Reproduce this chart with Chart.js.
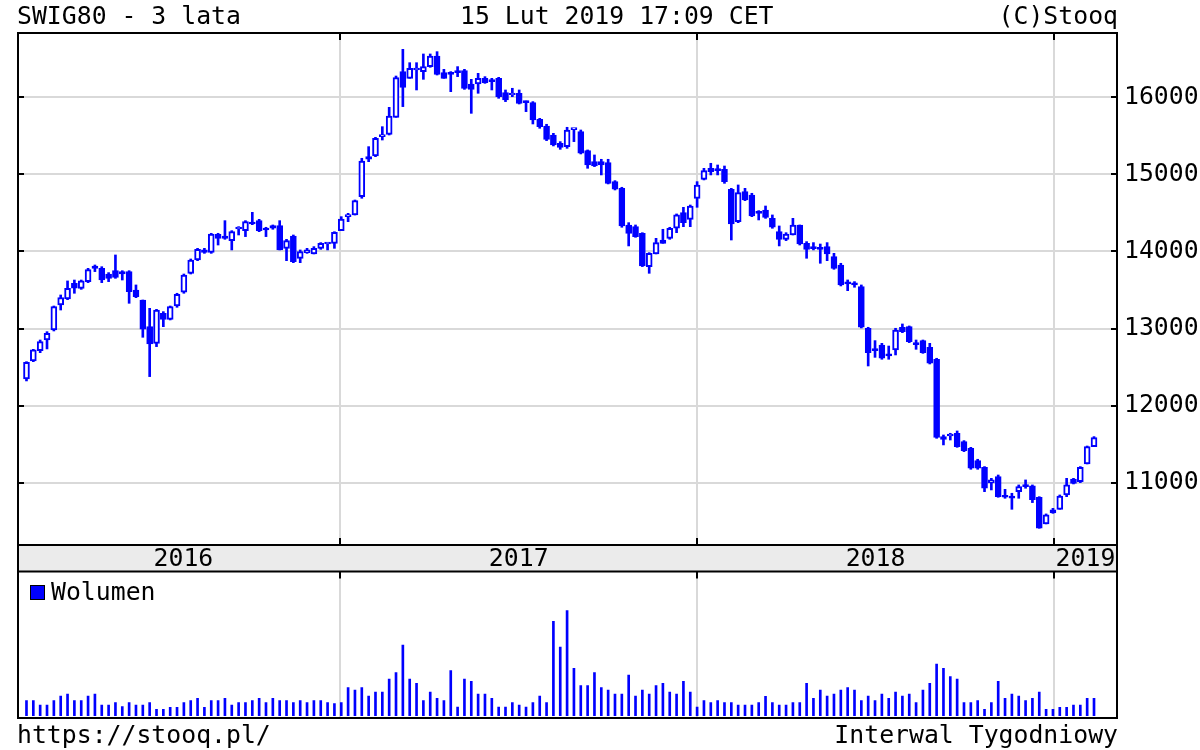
<!DOCTYPE html>
<html><head><meta charset="utf-8">
<script src="https://cdn.jsdelivr.net/npm/chart.js@4.4.1/dist/chart.umd.min.js"></script>
<style>
html,body{margin:0;padding:0;background:#fff;}
#wrap{position:relative;width:1200px;height:750px;overflow:hidden;background:#fff;}
canvas{position:absolute;left:0;top:0;}
.t{position:absolute;font-family:'DejaVu Sans Mono',monospace;font-size:24.8px;line-height:25px;color:#000;white-space:pre;}
</style></head><body>
<div id="wrap">
<canvas id="c" width="1200" height="750"></canvas>
<div class="t" style="left:17px;top:3px">SWIG80 - 3 lata</div>
<div class="t" style="left:460px;top:3px">15 Lut 2019 17:09 CET</div>
<div class="t" style="right:82px;top:3px">(C)Stooq</div>
<div class="t" style="left:17px;top:722px">https://stooq.pl/</div>
<div class="t" style="right:82px;top:722px">Interwal Tygodniowy</div>
</div>
<script>
// ---- data (weekly candles, SWIG80) ----
const firstWeek = [2016, 1, 15]; // Monday 15 Feb 2016
const open = [12347,12580,12714,12852,12982,13306,13384,13588,13522,13609,13812,13782,13708,13751,13739,13739,13501,13371,13025,12809,13198,13120,13293,13471,13717,13890,14020,13989,14223,14201,14141,14292,14270,14374,14400,14301,14335,14335,14041,14201,13911,13985,13968,14041,14097,14106,14270,14452,14473,14712,15230,15239,15490,15520,15740,16333,16246,16354,16333,16398,16536,16320,16320,16333,16346,16173,16173,16246,16225,16246,16060,16030,16052,15944,15931,15714,15628,15511,15403,15360,15580,15554,15308,15165,15165,15152,14906,14820,14344,14322,14236,13804,13968,14149,14171,14301,14504,14417,14690,14936,15079,15066,15066,14806,14387,14776,14733,14504,14538,14430,14257,14158,14214,14344,14106,14054,14054,14063,13933,13825,13596,13587,13544,13004,12731,12787,12671,12723,13017,13025,12809,12844,12757,12602,11599,11607,11642,11534,11447,11287,11201,10998,11080,10829,10829,10885,10967,10959,10812,10466,10650,10656,10842,11049,11015,11244,11469];
const high = [12571,12731,12852,12960,13293,13436,13618,13630,13630,13782,13825,13803,13726,13955,13751,13751,13566,13371,13263,13250,13220,13293,13458,13708,13903,14041,14041,14236,14236,14400,14270,14322,14400,14508,14417,14314,14344,14400,14158,14214,14020,14041,14063,14115,14115,14257,14452,14495,14668,15209,15360,15481,15619,15870,16276,16622,16449,16449,16562,16562,16592,16363,16333,16398,16363,16233,16311,16268,16246,16259,16095,16117,16095,15952,15944,15727,15650,15533,15425,15611,15590,15576,15317,15252,15196,15196,14919,14833,14374,14344,14244,13985,14171,14288,14314,14487,14573,14603,14906,15079,15144,15122,15109,14819,14863,14819,14755,14530,14590,14474,14331,14244,14430,14344,14128,14115,14097,14115,13976,13847,13631,13609,13566,13017,12844,12809,12774,13004,13060,13034,12852,12852,12809,12615,11620,11642,11672,11547,11460,11305,11210,11058,11101,10915,10864,10972,11037,10972,10820,10596,10669,10842,11058,11058,11210,11477,11599];
const low = [12321,12571,12688,12736,12969,13241,13375,13458,13509,13596,13739,13596,13609,13652,13630,13328,13401,12887,12377,12766,13025,13112,13276,13458,13708,13881,13976,13976,14084,14158,14020,14214,14193,14348,14257,14193,14288,14020,13881,13855,13855,13976,13968,14028,14020,14041,14270,14387,14473,14690,15165,15230,15446,15511,15740,15879,16246,16095,16233,16389,16289,16246,16073,16268,16103,15792,16052,16181,16095,15987,15944,16008,15913,15814,15654,15598,15438,15369,15325,15338,15425,15265,15079,15101,14993,14876,14798,14314,14072,14184,13804,13717,13968,14106,14158,14244,14322,14322,14573,14928,14993,14993,14884,14149,14374,14659,14452,14409,14430,14301,14072,14141,14214,14084,13912,14020,13847,13881,13769,13553,13492,13536,13008,12515,12627,12602,12602,12658,12947,12818,12731,12679,12541,11577,11491,11555,11460,11404,11175,11175,10885,10907,10812,10799,10656,10799,10929,10743,10410,10466,10604,10656,10820,10985,11002,11244,11469];
const close = [12563,12723,12831,12939,13285,13401,13522,13523,13618,13765,13782,13630,13652,13665,13708,13479,13414,12991,12800,13241,13120,13285,13445,13695,13890,14028,13989,14227,14171,14171,14257,14309,14387,14357,14270,14279,14301,14020,14141,13868,13998,14020,14041,14106,14115,14249,14422,14473,14659,15174,15196,15468,15507,15758,16255,16129,16376,16372,16398,16536,16298,16246,16298,16320,16116,16103,16246,16190,16203,16008,15965,16052,15922,15931,15706,15619,15455,15382,15351,15576,15585,15274,15122,15109,15122,14884,14807,14331,14236,14193,13812,13976,14115,14106,14301,14474,14374,14590,14863,15049,15036,15049,14906,14357,14763,14668,14461,14495,14443,14314,14158,14227,14344,14097,14028,14037,14028,13968,13782,13566,13579,13566,13017,12688,12714,12615,12645,12982,12960,12831,12792,12688,12550,11590,11564,11616,11469,11417,11188,11188,10929,11037,10820,10812,10799,10950,10950,10780,10410,10583,10610,10829,10972,10993,11201,11469,11585];
const volume = [15,15,10.7,10.7,15,19.7,21.7,15,15,19.7,21.7,10.7,10.7,13,9,13,10.7,10.7,13,6.3,6.3,8.3,8.3,13,15,17.3,8.3,15,15,17.3,10.7,13,13,15,17.3,13,17.3,15,15,13,15,13,15,15,13,12,13,28,25.7,28,19.7,23.7,23.7,36.7,43,70.7,36.7,32.3,15,23.7,17.3,15,45,8.7,36.7,34.3,21.7,21.7,17.3,8.7,8.7,13,10.7,8.7,13,19.7,13,94.3,68.7,105,47.3,30,30,43,28,25.7,21.7,21.7,40.7,19.7,25.7,21.7,30,32.3,23.7,21.7,34.3,23.7,8.7,15,13,15,13,13,10.7,10.7,10.7,13,19.3,13,10.7,10.7,13,13,32.3,17.3,25.7,19.7,21.7,25.7,28,25.7,15,19.7,15,21.7,17.3,23.7,19.7,21.7,13,25.7,32.3,51.7,47.3,39,36.7,13,13,15,6.3,13,34.3,17.3,21.7,19.7,15,17.3,23.7,6.3,6.3,8.3,8.3,10.7,10.7,17.3,17.3];
const priceTicks = [11000, 12000, 13000, 14000, 15000, 16000];
const years = [2016, 2017, 2018, 2019];
const volumeLabel = 'Wolumen';

// ---- derived ----
const DAY = 86400000;
const t0 = Date.UTC(firstWeek[0], firstWeek[1], firstWeek[2]);
const weekIdx = open.map((_, i) => i);
const weekLabels = weekIdx.map(i => new Date(t0 + i * 7 * DAY).toISOString().slice(0, 10));
const toIdx = y => (Date.UTC(y, 0, 1) - t0) / (7 * DAY);
const yearBounds = years.slice(1).map(toIdx);
const xMin = -1.24, xMax = 159.36;
const BLUE = '#0000ff', GRID = '#d9d9d9';
const FONT = '"DejaVu Sans Mono", monospace';

const bodies = weekIdx.map(i => ({x: i, y: [Math.min(open[i], close[i]), Math.max(open[i], close[i])]}));
const wicks = weekIdx.map(i => ({x: i, y: [low[i], high[i]]}));
const bodyFill = weekIdx.map(i => close[i] >= open[i] ? '#ffffff' : BLUE);
const vols = weekIdx.map(i => ({x: i, y: volume[i]}));

const framePlugin = {
  id: 'frame',
  afterDraw(chart) {
    const {ctx, chartArea: a, scales} = chart;
    const yM = scales.y, yV = scales.yVol, x = scales.x;
    const mainBot = yM.bottom, volTop = yV.top;
    ctx.save();
    ctx.fillStyle = '#ebebeb';
    ctx.fillRect(a.left, mainBot, a.right - a.left, volTop - mainBot);
    ctx.strokeStyle = '#000';
    ctx.lineWidth = 2;
    ctx.beginPath();
    ctx.rect(a.left, a.top, a.right - a.left, a.bottom - a.top);
    ctx.moveTo(a.left, mainBot); ctx.lineTo(a.right, mainBot);
    ctx.moveTo(a.left, volTop); ctx.lineTo(a.right, volTop);
    priceTicks.forEach(v => {
      const py = Math.round(yM.getPixelForValue(v));
      ctx.moveTo(a.left, py); ctx.lineTo(a.left + 6, py);
      ctx.moveTo(a.right, py); ctx.lineTo(a.right - 6, py);
    });
    yearBounds.forEach(v => {
      const px = Math.round(x.getPixelForValue(v));
      ctx.moveTo(px, a.top); ctx.lineTo(px, a.top + 7);
      ctx.moveTo(px, mainBot); ctx.lineTo(px, mainBot - 7);
      ctx.moveTo(px, volTop); ctx.lineTo(px, volTop + 7);
    });
    ctx.stroke();
    ctx.fillStyle = '#000';
    ctx.font = '24.8px ' + FONT;
    ctx.textAlign = 'center';
    ctx.textBaseline = 'alphabetic';
    years.forEach(yr => {
      const s = Math.max(toIdx(yr), 0);
      const e = Math.min(toIdx(yr + 1), xMax);
      ctx.fillText(String(yr), x.getPixelForValue((s + e) / 2), mainBot + 21);
    });
    // legend
    ctx.fillStyle = BLUE;
    ctx.fillRect(31, 586, 13, 13);
    ctx.lineWidth = 1;
    ctx.strokeRect(30.5, 585.5, 14, 14);
    ctx.fillStyle = '#000';
    ctx.textAlign = 'left';
    ctx.fillText(volumeLabel, 51, 600);
    ctx.restore();
  }
};

new Chart(document.getElementById('c'), {
  type: 'bar',
  data: {
    labels: weekLabels,
    datasets: [
      {label: 'body', data: bodies, yAxisID: 'y', backgroundColor: bodyFill, borderColor: BLUE, borderWidth: 2,
       borderSkipped: false, barThickness: 6, minBarLength: 2, grouped: false, order: 0},
      {label: 'wick', data: wicks, yAxisID: 'y', backgroundColor: BLUE, borderWidth: 0, barThickness: 2, grouped: false, order: 1},
      {label: volumeLabel, data: vols, yAxisID: 'yVol', backgroundColor: BLUE, borderWidth: 0, barThickness: 2, grouped: false, order: 2}
    ]
  },
  options: {
    responsive: false, animation: false, devicePixelRatio: 1,
    layout: {padding: {left: 18, right: 0, top: 33, bottom: 32}},
    plugins: {legend: {display: false}, tooltip: {enabled: false}},
    scales: {
      x: {type: 'linear', min: xMin, max: xMax, offset: false,
          afterBuildTicks: s => { s.ticks = yearBounds.map(v => ({value: v})); },
          ticks: {display: false}, grid: {color: GRID, lineWidth: 2, drawTicks: false, offset: false}, border: {display: false}},
      y: {position: 'right', stack: 'panels', stackWeight: 512, min: 10193, max: 16834,
          afterBuildTicks: s => { s.ticks = priceTicks.map(v => ({value: v})); },
          afterFit: s => { s.width = 83; },
          ticks: {padding: 7, color: '#000', font: {family: FONT, size: 24.8}, callback: v => String(v)},
          grid: {color: GRID, lineWidth: 2, drawTicks: false}, border: {display: false}},
      yBand: {position: 'right', stack: 'panels', stackWeight: 26.5, min: 0, max: 1,
          ticks: {display: false}, grid: {display: false, drawTicks: false}, border: {display: false}},
      yVol: {position: 'right', stack: 'panels', stackWeight: 146.5, min: -2.3, max: 144.2,
          afterFit: s => { s.width = 83; },
          ticks: {display: false}, grid: {display: false, drawTicks: false}, border: {display: false}}
    }
  },
  plugins: [framePlugin]
});
</script>
</body></html>
